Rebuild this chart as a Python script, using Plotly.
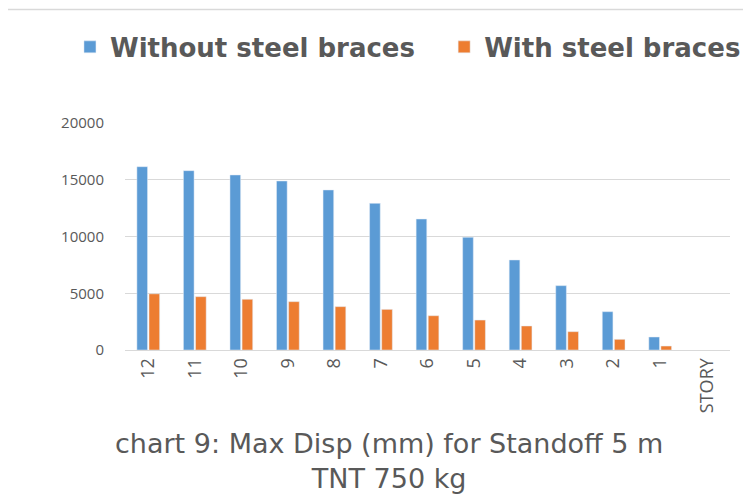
import plotly.graph_objects as go

# Datos
pisos = ["12", "11", "10", "9", "8", "7", "6", "5", "4", "3", "2", "1", "STORY"]
sin_arriostres = [16150, 15800, 15420, 14890, 14100, 12920, 11540, 9930, 7930, 5670, 3375, 1145, None]
con_arriostres = [4950, 4700, 4470, 4260, 3820, 3580, 3020, 2640, 2115, 1615, 940, 350, None]
y_ticks = [0, 5000, 10000, 15000, 20000]

gris = '#595959'
fuente_leyenda = dict(family='DejaVu Sans', size=26, color=gris, weight='bold')

fig = go.Figure()
fig.add_trace(go.Bar(x=pisos, y=sin_arriostres, name="Without steel braces",
                     marker=dict(color='#5B9BD5'), legend='legend'))
fig.add_trace(go.Bar(x=pisos, y=con_arriostres, name="With steel braces",
                     marker=dict(color='#ED7D31'), legend='legend2'))

# la pagina html tiene 8px de margen, por eso la figura es 8px mas chica
fig.update_layout(
    width=743, height=487,
    margin=dict(l=117, r=21, t=115, b=145, autoexpand=False),
    paper_bgcolor='white', plot_bgcolor='white',
    barmode='group', bargap=0.48, bargroupgap=0.12,
    font=dict(family='Open Sans', color=gris),
    showlegend=True,
    legend=dict(orientation='h', xref='container', yref='container', x=0.0834, xanchor='left',
                y=0.92, yanchor='middle', bgcolor='rgba(0,0,0,0)',
                font=fuente_leyenda, itemwidth=30),
    legend2=dict(orientation='h', xref='container', yref='container', x=0.587, xanchor='left',
                 y=0.92, yanchor='middle', bgcolor='rgba(0,0,0,0)',
                 font=fuente_leyenda, itemwidth=30),
    annotations=[dict(text="chart 9: Max Disp (mm) for Standoff 5 m<br>TNT 750 kg",
                      xref='paper', yref='paper', x=0.436, y=-0.49, xanchor='center',
                      yanchor='middle', showarrow=False,
                      font=dict(family='DejaVu Sans', size=27, color=gris))],
    shapes=[dict(type='rect', xref='paper', yref='paper', x0=-0.195, x1=1.5, y0=-2, y1=1.5,
                 line=dict(color='#d9d9d9', width=1.5), layer='below')],
)
fig.update_xaxes(type='category', tickangle=-90, showline=True, linecolor='#d9d9d9',
                 tickfont=dict(size=18, color=gris), ticks='', showgrid=False)
fig.update_yaxes(range=[0, 20000], tickvals=y_ticks, showline=False, gridcolor='#d9d9d9',
                 tickformat='d', tickfont=dict(size=15, color=gris), zeroline=False,
                 ticklabelstandoff=20)

fig.write_html("out.html")
